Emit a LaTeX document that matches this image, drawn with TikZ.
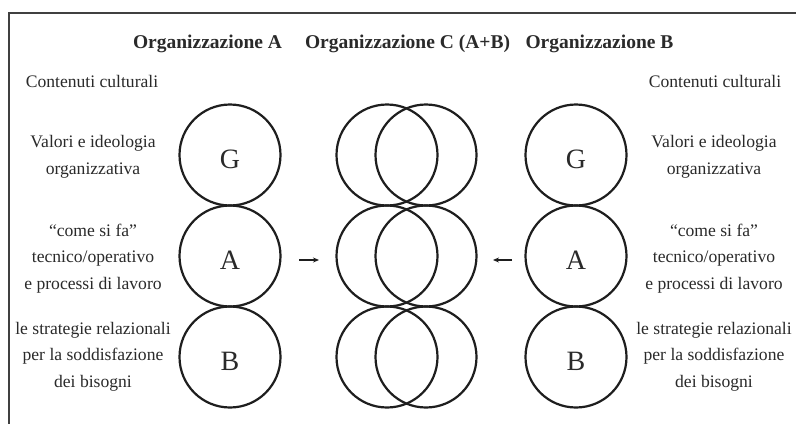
\documentclass[tikz,border=0pt]{standalone}
\usepackage{fontspec}
\setmainfont{Liberation Serif}
\usetikzlibrary{arrows.meta}
\definecolor{ink}{HTML}{2A2A2A}
\definecolor{stroke}{HTML}{1E1E1E}
\begin{document}
\begin{tikzpicture}[x=1pt,y=-1pt,
  ring/.style={draw=stroke,line width=2.2pt,circle,minimum size=101pt,inner sep=0pt,
    text=ink,font=\fontsize{28}{28}\selectfont,text height=26pt,text depth=0pt},
  title/.style={anchor=base,text=ink,inner sep=0pt,font=\fontsize{19.5}{22}\selectfont\bfseries},
  desc/.style={anchor=base,align=center,text=ink,inner sep=0pt,font=\fontsize{17.6}{26.5}\selectfont},
  arr/.style={draw=stroke,line width=1.3pt,-{Stealth[length=6pt,width=5pt]}}]
\useasboundingbox (0,0) rectangle (796,424);
\fill[white] (0,0) rectangle (796,424);
% frame
\coordinate (fTL) at (9,13);
\coordinate (fTR) at (796,13);
\coordinate (fBL) at (9,424);
\draw[stroke!85,line width=1.3pt] (fTR) -- (fTL) -- (fBL);
% titles
\node[title] (tA) at (207.5,48) {Organizzazione A};
\node[title] (tC) at (407.5,48) {Organizzazione C (A+B)};
\node[title] (tB) at (599.5,48) {Organizzazione B};
% left descriptions (anchored at the baseline of the last line)
\node[desc] (lc) at (92,87) {Contenuti culturali};
\node[desc] (lg) at (93,174) {Valori e ideologia\\organizzativa};
\node[desc] (la) at (93,289) {“come si fa”\\tecnico/operativo\\e processi di lavoro};
\node[desc] (lb) at (93,387) {le strategie relazionali\\per la soddisfazione\\dei bisogni};
% right descriptions
\node[desc] (rc) at (715,87) {Contenuti culturali};
\node[desc] (rg) at (714,174) {Valori e ideologia\\organizzativa};
\node[desc] (ra) at (714,289) {“come si fa”\\tecnico/operativo\\e processi di lavoro};
\node[desc] (rb) at (714,387) {le strategie relazionali\\per la soddisfazione\\dei bisogni};
% organisation A
\node[ring] (AG) at (230,155) {G};
\node[ring] (AA) at (230,256) {A};
\node[ring] (AB) at (230,357) {B};
% organisation C
\node[ring] (C1G) at (387,155) {};
\node[ring] (C1A) at (387,256) {};
\node[ring] (C1B) at (387,357) {};
\node[ring] (C2G) at (426,155) {};
\node[ring] (C2A) at (426,256) {};
\node[ring] (C2B) at (426,357) {};
% organisation B
\node[ring] (BG) at (576,155) {G};
\node[ring] (BA) at (576,256) {A};
\node[ring] (BB) at (576,357) {B};
% arrows
\coordinate (a1s) at (299,260);
\coordinate (a1e) at (319,260);
\coordinate (a2s) at (512,260);
\coordinate (a2e) at (493,260);
\draw[arr] (a1s) -- (a1e);
\draw[arr] (a2s) -- (a2e);
\end{tikzpicture}
\end{document}
